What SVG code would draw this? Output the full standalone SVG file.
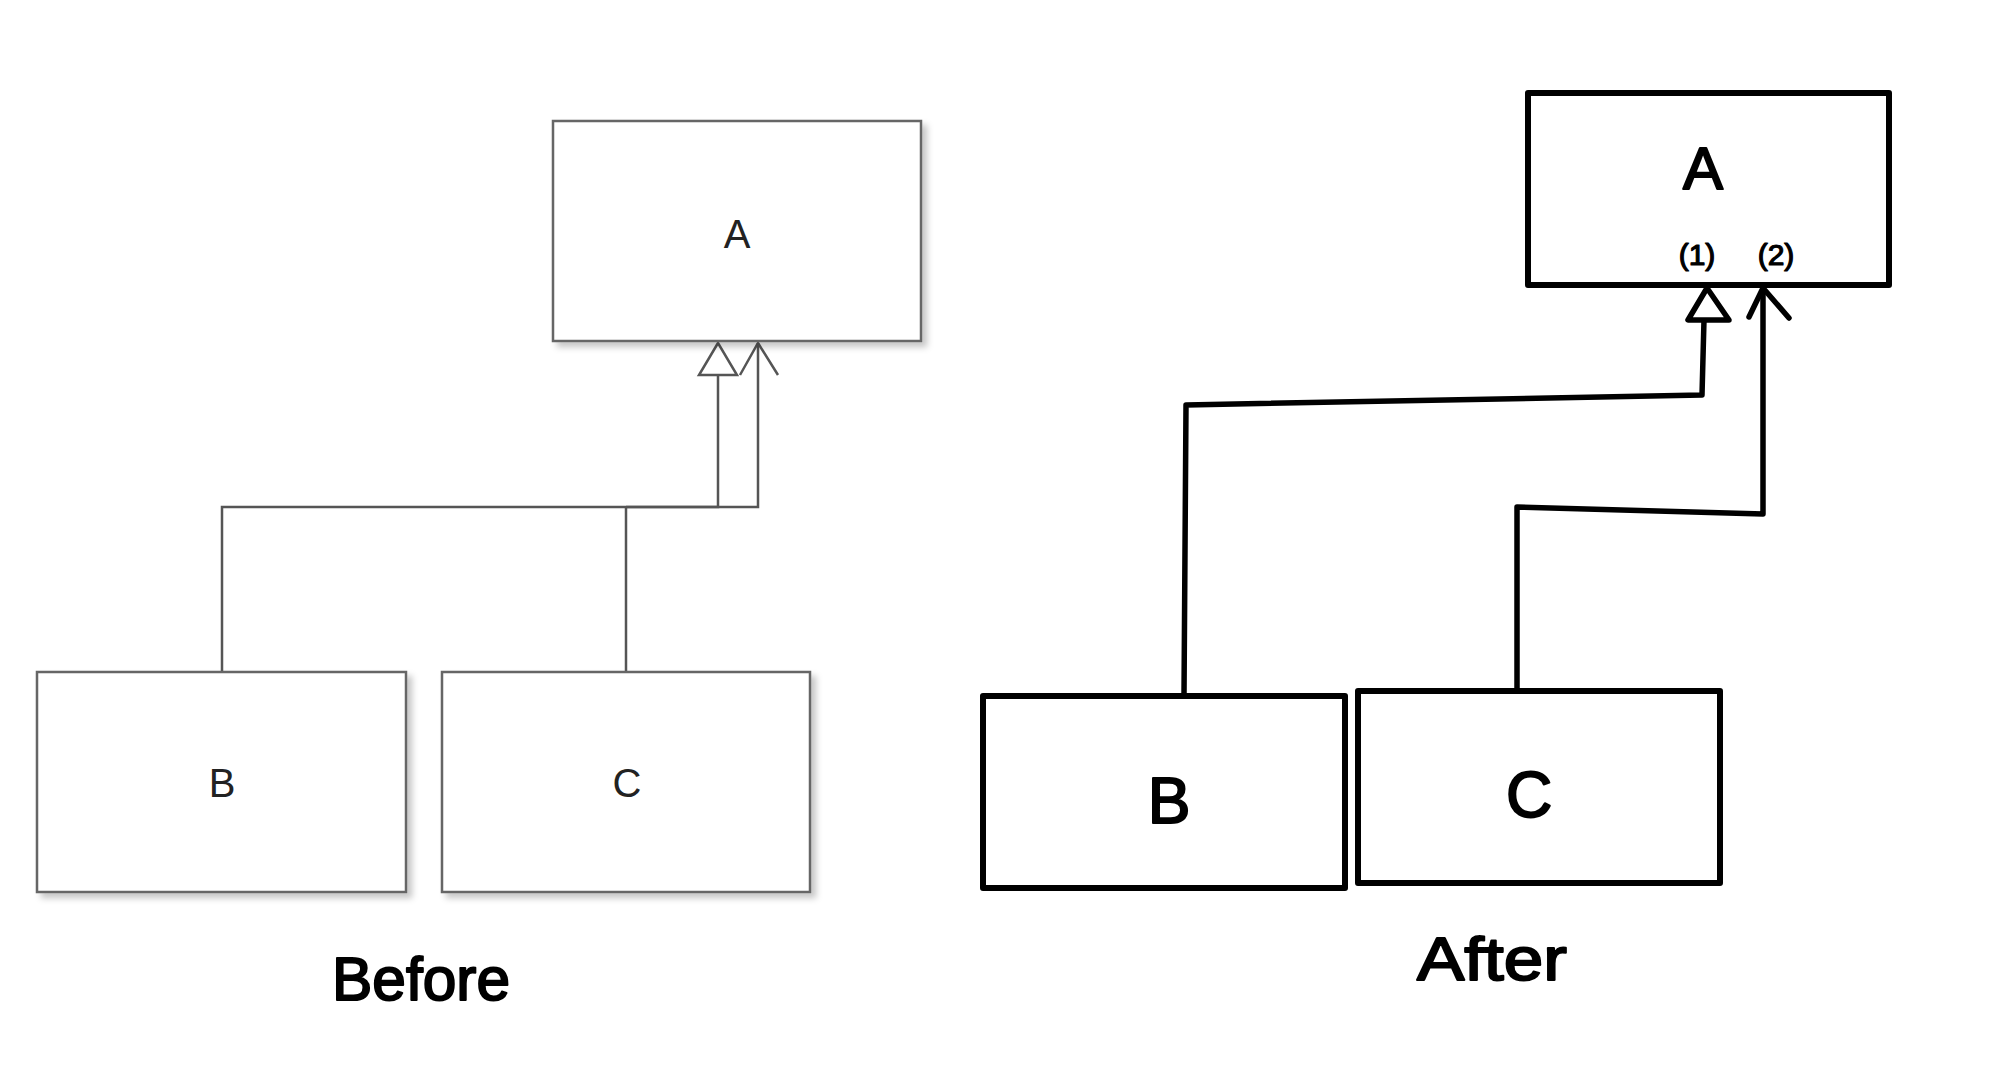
<svg xmlns="http://www.w3.org/2000/svg" width="2002" height="1070" viewBox="0 0 2002 1070">
<style>
.bbox{fill:#fff;stroke:#666;stroke-width:2.5;filter:url(#sh)}
.blbl{font-family:"Liberation Sans",Arial,sans-serif;font-size:40px;fill:#222;text-anchor:middle}
.bline{fill:none;stroke:#555;stroke-width:2.5}
.abox{fill:#fff;stroke:#000;stroke-width:6;stroke-linejoin:round}
.aline{fill:none;stroke:#000;stroke-width:5.5;stroke-linejoin:round;stroke-linecap:round}
.albl{font-family:"Liberation Sans",Arial,sans-serif;fill:#000;stroke:#000;stroke-width:2;stroke-linejoin:round;text-anchor:middle}
</style>
<defs>
<filter id="sh" x="-10%" y="-10%" width="130%" height="130%">
<feDropShadow dx="5" dy="5" stdDeviation="3" flood-color="#000" flood-opacity="0.22"/>
</filter>
</defs>
<rect width="2002" height="1070" fill="#fff"/>

<g id="connectors">
<!-- Before -->
<polyline class="bline" points="222,672 222,507 718,507 718,375"/>
<polyline class="bline" points="626,672 626,507"/>
<polyline class="bline" points="626,507 758,507 758,343"/>
<polygon class="bline" points="718,343 699,375 737,375" style="fill:#fff"/>
<polyline class="bline" points="740,375 758,343 778,375"/>
<!-- After -->
<polyline class="aline" points="1184,696 1186,405 1702,395 1704,320"/>
<polyline class="aline" points="1517,691 1517,507 1763,514 1763,288"/>
<polygon class="aline" points="1707,288 1688,320 1729,320" style="fill:#fff"/>
<polyline class="aline" points="1749,317 1763,288 1789,318"/>
</g>

<g id="before-A">
<rect class="bbox" x="553" y="121" width="368" height="220"/>
<text class="blbl" x="737" y="248">A</text>
</g>
<g id="before-B">
<rect class="bbox" x="37" y="672" width="369" height="220"/>
<text class="blbl" x="222" y="797">B</text>
</g>
<g id="before-C">
<rect class="bbox" x="442" y="672" width="368" height="220"/>
<text class="blbl" x="627" y="797">C</text>
</g>
<text id="before-label" class="albl" x="421" y="1000" font-size="62" textLength="178" lengthAdjust="spacingAndGlyphs">Before</text>

<g id="after-A">
<rect class="abox" x="1528" y="93" width="361" height="192"/>
<text class="albl" x="1703" y="189" font-size="60">A</text>
<text class="albl" x="1697" y="265" font-size="30" style="stroke-width:1.2">(1)</text>
<text class="albl" x="1776" y="265" font-size="30" style="stroke-width:1.2">(2)</text>
</g>
<g id="after-B">
<rect class="abox" x="983" y="696" width="362" height="192"/>
<text class="albl" x="1169" y="823" font-size="64">B</text>
</g>
<g id="after-C">
<rect class="abox" x="1358" y="691" width="362" height="192"/>
<text class="albl" x="1529" y="817" font-size="64">C</text>
</g>
<text id="after-label" class="albl" x="1492" y="980" font-size="62" textLength="150" lengthAdjust="spacingAndGlyphs">After</text>
</svg>
